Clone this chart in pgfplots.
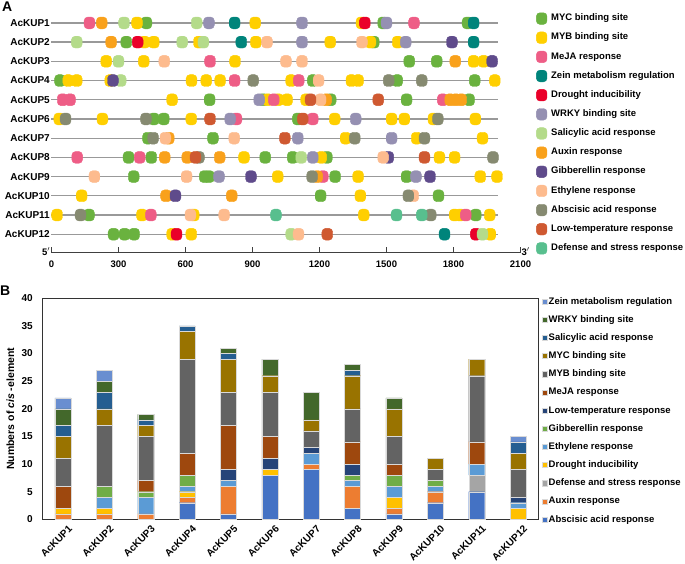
\documentclass[border=0pt]{standalone}
\usepackage{pgfplots}
\usepackage{pgfplotstable}
\pgfplotsset{compat=1.18}
\usepackage{fontspec}
\setmainfont{Liberation Sans}

% panel A colours
\definecolor{cMYC}{HTML}{6AB23F}
\definecolor{cMYB}{HTML}{FFCF00}
\definecolor{cMeJA}{HTML}{EE5D86}
\definecolor{cZein}{HTML}{00847B}
\definecolor{cDro}{HTML}{EA0029}
\definecolor{cWRKY}{HTML}{9590B2}
\definecolor{cSal}{HTML}{B4DB8A}
\definecolor{cAux}{HTML}{F9A11B}
\definecolor{cGib}{HTML}{5F4B8B}
\definecolor{cEth}{HTML}{FDBB8E}
\definecolor{cAbs}{HTML}{868A71}
\definecolor{cLow}{HTML}{CF5931}
\definecolor{cDef}{HTML}{58BF8E}
% panel B colours
\definecolor{bAbs}{HTML}{4472C4}
\definecolor{bAux}{HTML}{ED7D31}
\definecolor{bDef}{HTML}{A5A5A5}
\definecolor{bDro}{HTML}{FFC000}
\definecolor{bEth}{HTML}{5B9BD5}
\definecolor{bGib}{HTML}{70AD47}
\definecolor{bLow}{HTML}{264478}
\definecolor{bMeJA}{HTML}{9E480E}
\definecolor{bMYB}{HTML}{636363}
\definecolor{bMYC}{HTML}{997300}
\definecolor{bSal}{HTML}{255E91}
\definecolor{bWRKY}{HTML}{43682B}
\definecolor{bZein}{HTML}{698ED0}

\pgfdeclareplotmark{rr}{%
  \fill[rounded corners=3.8pt] (-5.4pt,-5.9pt) rectangle (5.4pt,5.9pt);}

\pgfplotstableread{
g Abs Aux Def Dro Eth Gib Low MeJA MYB MYC Sal WRKY Zein
1  0 1 0 1 0 0 0 4 5  4 2 3 2
2  0 1 0 1 2 2 0 0 11 3 3 2 2
3  0 1 0 0 3 1 0 2 8  2 1 1 0
4  3 1 0 1 1 2 0 4 17 5 1 0 0
5  1 5 0 0 1 0 2 8 6  6 1 1 0
6  8 0 0 1 0 0 2 4 8  3 0 3 0
7  9 1 0 0 2 0 1 0 3  2 0 5 0
8  2 4 0 0 1 1 2 4 6  6 1 1 0
9  1 1 0 2 2 2 0 2 5  5 0 2 0
10 3 2 0 0 1 1 0 0 2  2 0 0 0
11 5 0 3 0 2 0 0 4 12 3 0 0 0
12 0 0 0 2 1 0 1 0 5  3 2 0 1
}\cistable

\begin{document}
\begin{tikzpicture}
\path[use as bounding box] (0pt,0pt) rectangle (685pt,563pt);
\node[font=\fontsize{14}{14}\bfseries\selectfont, anchor=north west, inner sep=0pt] at (2pt,561pt) {A};
\node[font=\fontsize{14}{14}\bfseries\selectfont, anchor=north west, inner sep=0pt] at (0pt,277pt) {B};

% ---------------- Panel A ----------------
\begin{axis}[
  at={(51.5pt,310.7pt)}, anchor=south west,
  width=469pt, height=240.9pt, scale only axis,
  xmin=0, xmax=2100, ymin=0.06, ymax=12.6,
  clip=false,
  axis x line*=bottom, axis y line*=left,
  y axis line style={draw=none},
  x axis line style={-, draw=black!75, line width=0.8pt},
  xtick={0,300,...,2100},
  xtick style={draw=black!75, line width=0.8pt},
  tick align=inside, major tick length=5pt,
  ytick={1,...,12},
  yticklabels={AcKUP12,AcKUP11,AcKUP10,AcKUP9,AcKUP8,AcKUP7,AcKUP6,AcKUP5,AcKUP4,AcKUP3,AcKUP2,AcKUP1},
  ytick style={draw=none},
  yticklabel style={font=\bfseries\fontsize{10}{10}\selectfont, inner sep=1.5pt},
  xticklabel style={font=\bfseries\fontsize{9.5}{10}\selectfont, yshift=-5pt},
  /pgf/number format/.cd, 1000 sep={}, assume math mode=true, /pgfplots/.cd,
  legend cell align=left,
  legend image code/.code={\fill[#1, rounded corners=3.5pt] (-5.3pt,-5.8pt) rectangle (5.3pt,5.8pt);},
  legend style={at={(1.033,0.996)}, anchor=north west, draw=none, fill=none,
    inner sep=0pt, row sep=7.15pt,
    font=\bfseries\fontsize{9.5}{10}\selectfont,
    nodes={inner sep=0pt, text height=8pt, text depth=3.6pt},
    /tikz/every odd column/.style={column sep=4pt}},
  every axis plot/.append style={only marks, mark=rr},
]
\pgfplotsinvokeforeach{1,...,12}{
  \addplot[forget plot, no marks, sharp plot, draw=black!40, line width=1.3pt] coordinates {(0,#1) (2000,#1)};
}
% MYC binding site
\addplot[color=cMYC] coordinates {
(425,12)(1485,12)(1863,12)
(335,11)(1443,11)
(1602,10)(1725,10)
(38,9)(1170,9)(1548,9)(1895,9)
(708,8)(948,8)(1250,8)(1590,8)(1870,8)
(458,7)(503,7)(1103,7)
(432,6)(723,6)
(345,5)(447,5)(957,5)(1080,5)(1233,5)
(368,4)(686,4)(705,4)(1270,4)(1590,4)
(1205,3)(1733,3)
(168,2)(1900,2)
(278,1)(327,1)(370,1)};
\addlegendentry{MYC binding site}
% MYB binding site
\addplot[color=cMYB] coordinates {
(383,12)(912,12)(1388,12)
(416,11)(458,11)(660,11)(915,11)(1248,11)(1428,11)(1550,11)
(245,10)(413,10)(822,10)(1890,10)(1935,10)
(75,9)(113,9)(263,9)(627,9)(693,9)(755,9)(1073,9)(1343,9)(1373,9)(1985,9)
(540,8)(968,8)(1015,8)(1055,8)(1140,8)
(35,7)(228,7)(626,7)(1268,7)(1523,7)(1580,7)(1710,7)(1898,7)
(1317,6)(1635,6)(1930,6)
(862,5)(1208,5)(1737,5)(1805,5)
(1013,4)(1373,4)(1920,4)(1995,4)
(135,3)(1383,3)
(25,2)(405,2)(637,2)(1398,2)(1805,2)(1830,2)(1962,2)
(540,1)(626,1)(1965,1)};
\addlegendentry{MYB binding site}
% MeJA
\addplot[color=cMeJA] coordinates {
(170,12)(1623,12)
(710,10)
(820,9)(1107,9)
(50,8)(83,8)(995,8)(1752,8)
(828,7)(1170,7)
(115,5)(395,5)
(1215,4)
(445,2)(1855,2)};
\addlegendentry{MeJA response}
% Zein
\addplot[color=cZein] coordinates {
(820,12)(1890,12)
(850,11)(1890,11)
(1760,1)};
\addlegendentry{Zein metabolism regulation}
% Drought
\addplot[color=cDro] coordinates {
(1403,12)
(386,11)
(560,1)(1900,1)};
\addlegendentry{Drought inducibility}
% WRKY
\addplot[color=cWRKY] coordinates {
(705,12)(1122,12)(1500,12)
(1122,11)(1586,11)
(930,8)
(800,7)(1362,7)
(1103,6)(1523,6)
(1170,5)
(750,4)(1632,4)};
\addlegendentry{WRKY binding site}
% Salicylic
\addplot[color=cSal] coordinates {
(325,12)(650,12)
(113,11)(585,11)(680,11)
(300,10)
(310,9)
(1118,5)
(1073,1)(1930,1)};
\addlegendentry{Salicylic acid response}
% Auxin
\addplot[color=cAux] coordinates {
(225,12)
(267,11)
(1808,10)
(1230,8)(1785,8)(1810,8)(1835,8)
(525,6)
(507,5)(608,5)(753,5)
(1190,4)
(513,3)(807,3)};
\addlegendentry{Auxin response}
% Gibberellin
\addplot[color=cGib] coordinates {
(1793,11)
(1973,10)
(275,9)
(1508,5)
(893,4)(1695,4)
(555,3)};
\addlegendentry{Gibberellin response}
% Ethylene
\addplot[color=cEth] coordinates {
(965,11)(1390,11)
(505,10)(1050,10)(1122,10)
(1196,9)
(1205,8)
(510,6)(818,6)
(1485,5)
(192,4)(605,4)
(1620,3)
(622,2)(773,2)
(1106,1)};
\addlegendentry{Ethylene response}
% Abscisic
\addplot[color=cAbs] coordinates {
(903,9)(1510,9)(1658,9)
(63,7)(423,7)(1730,7)
(455,6)(1358,6)(1670,6)
(660,5)(1977,5)
(1167,4)
(1598,3)
(130,2)(1698,2)};
\addlegendentry{Abscisic acid response}
% Low temperature
\addplot[color=cLow] coordinates {
(1160,8)(1463,8)
(710,7)(1125,7)
(1045,6)
(645,5)(1670,5)
(1235,1)};
\addlegendentry{Low-temperature response}
% Defense
\addplot[color=cDef] coordinates {
(1005,2)(1545,2)(1658,2)};
\addlegendentry{Defense and stress response}
\node[font=\bfseries\fontsize{9.5}{10}\selectfont, anchor=east, inner sep=1pt, yshift=1pt] at (axis cs:0,0.06) {5$'$};
\node[font=\bfseries\fontsize{9.5}{10}\selectfont, anchor=west, inner sep=1pt, yshift=1pt] at (axis cs:2100,0.06) {3$'$};
\end{axis}

% ---------------- Panel B ----------------
\begin{axis}[
  at={(42.3pt,43.7pt)}, anchor=south west,
  width=496.4pt, height=221pt, scale only axis,
  ybar stacked, bar width=16pt,
  xmin=0.5, xmax=12.5, ymin=0, ymax=40,
  xtick={1,...,12},
  xticklabels={AcKUP1,AcKUP2,AcKUP3,AcKUP4,AcKUP5,AcKUP6,AcKUP7,AcKUP8,AcKUP9,AcKUP10,AcKUP11,AcKUP12},
  ytick={0,5,...,40},
  major tick length=0pt,
  axis line style={draw=black!80, line width=0.8pt},
  /pgf/number format/.cd, assume math mode=true, /pgfplots/.cd,
  yticklabel style={font=\bfseries\fontsize{10}{10}\selectfont, xshift=-6pt},
  xticklabel style={font=\bfseries\fontsize{10}{10}\selectfont, rotate=45, anchor=north east, inner sep=1pt, yshift=-6pt, xshift=1pt},
  ylabel={Numbers of \textit{cis} -element},
  ylabel style={font=\bfseries\fontsize{10.5}{11}\selectfont, at={(axis description cs:-0.0645,0.5)}, anchor=center},
  reverse legend, legend cell align=left,
  legend image code/.code={\fill[#1] (0pt,-2.6pt) rectangle (5.2pt,2.6pt);},
  legend style={at={(1.0057,1.009)}, anchor=north west, draw=none, fill=none,
    inner sep=0pt, row sep=8.17pt,
    font=\bfseries\fontsize{9.5}{10}\selectfont,
    nodes={inner sep=0pt, text height=7.5pt, text depth=2.5pt},
    /tikz/every odd column/.style={column sep=1.5pt}},
  every axis plot/.append style={draw=white!85!black, line width=0.3pt},
]
\addplot[fill=bAbs] table[x=g,y=Abs] {\cistable}; \addlegendentry{Abscisic acid response}
\addplot[fill=bAux] table[x=g,y=Aux] {\cistable}; \addlegendentry{Auxin response}
\addplot[fill=bDef] table[x=g,y=Def] {\cistable}; \addlegendentry{Defense and stress response}
\addplot[fill=bDro] table[x=g,y=Dro] {\cistable}; \addlegendentry{Drought inducibility}
\addplot[fill=bEth] table[x=g,y=Eth] {\cistable}; \addlegendentry{Ethylene response}
\addplot[fill=bGib] table[x=g,y=Gib] {\cistable}; \addlegendentry{Gibberellin response}
\addplot[fill=bLow] table[x=g,y=Low] {\cistable}; \addlegendentry{Low-temperature response}
\addplot[fill=bMeJA] table[x=g,y=MeJA] {\cistable}; \addlegendentry{MeJA response}
\addplot[fill=bMYB] table[x=g,y=MYB] {\cistable}; \addlegendentry{MYB binding site}
\addplot[fill=bMYC] table[x=g,y=MYC] {\cistable}; \addlegendentry{MYC binding site}
\addplot[fill=bSal] table[x=g,y=Sal] {\cistable}; \addlegendentry{Salicylic acid response}
\addplot[fill=bWRKY] table[x=g,y=WRKY] {\cistable}; \addlegendentry{WRKY binding site}
\addplot[fill=bZein] table[x=g,y=Zein] {\cistable}; \addlegendentry{Zein metabolism regulation}
\end{axis}
\end{tikzpicture}
\end{document}
